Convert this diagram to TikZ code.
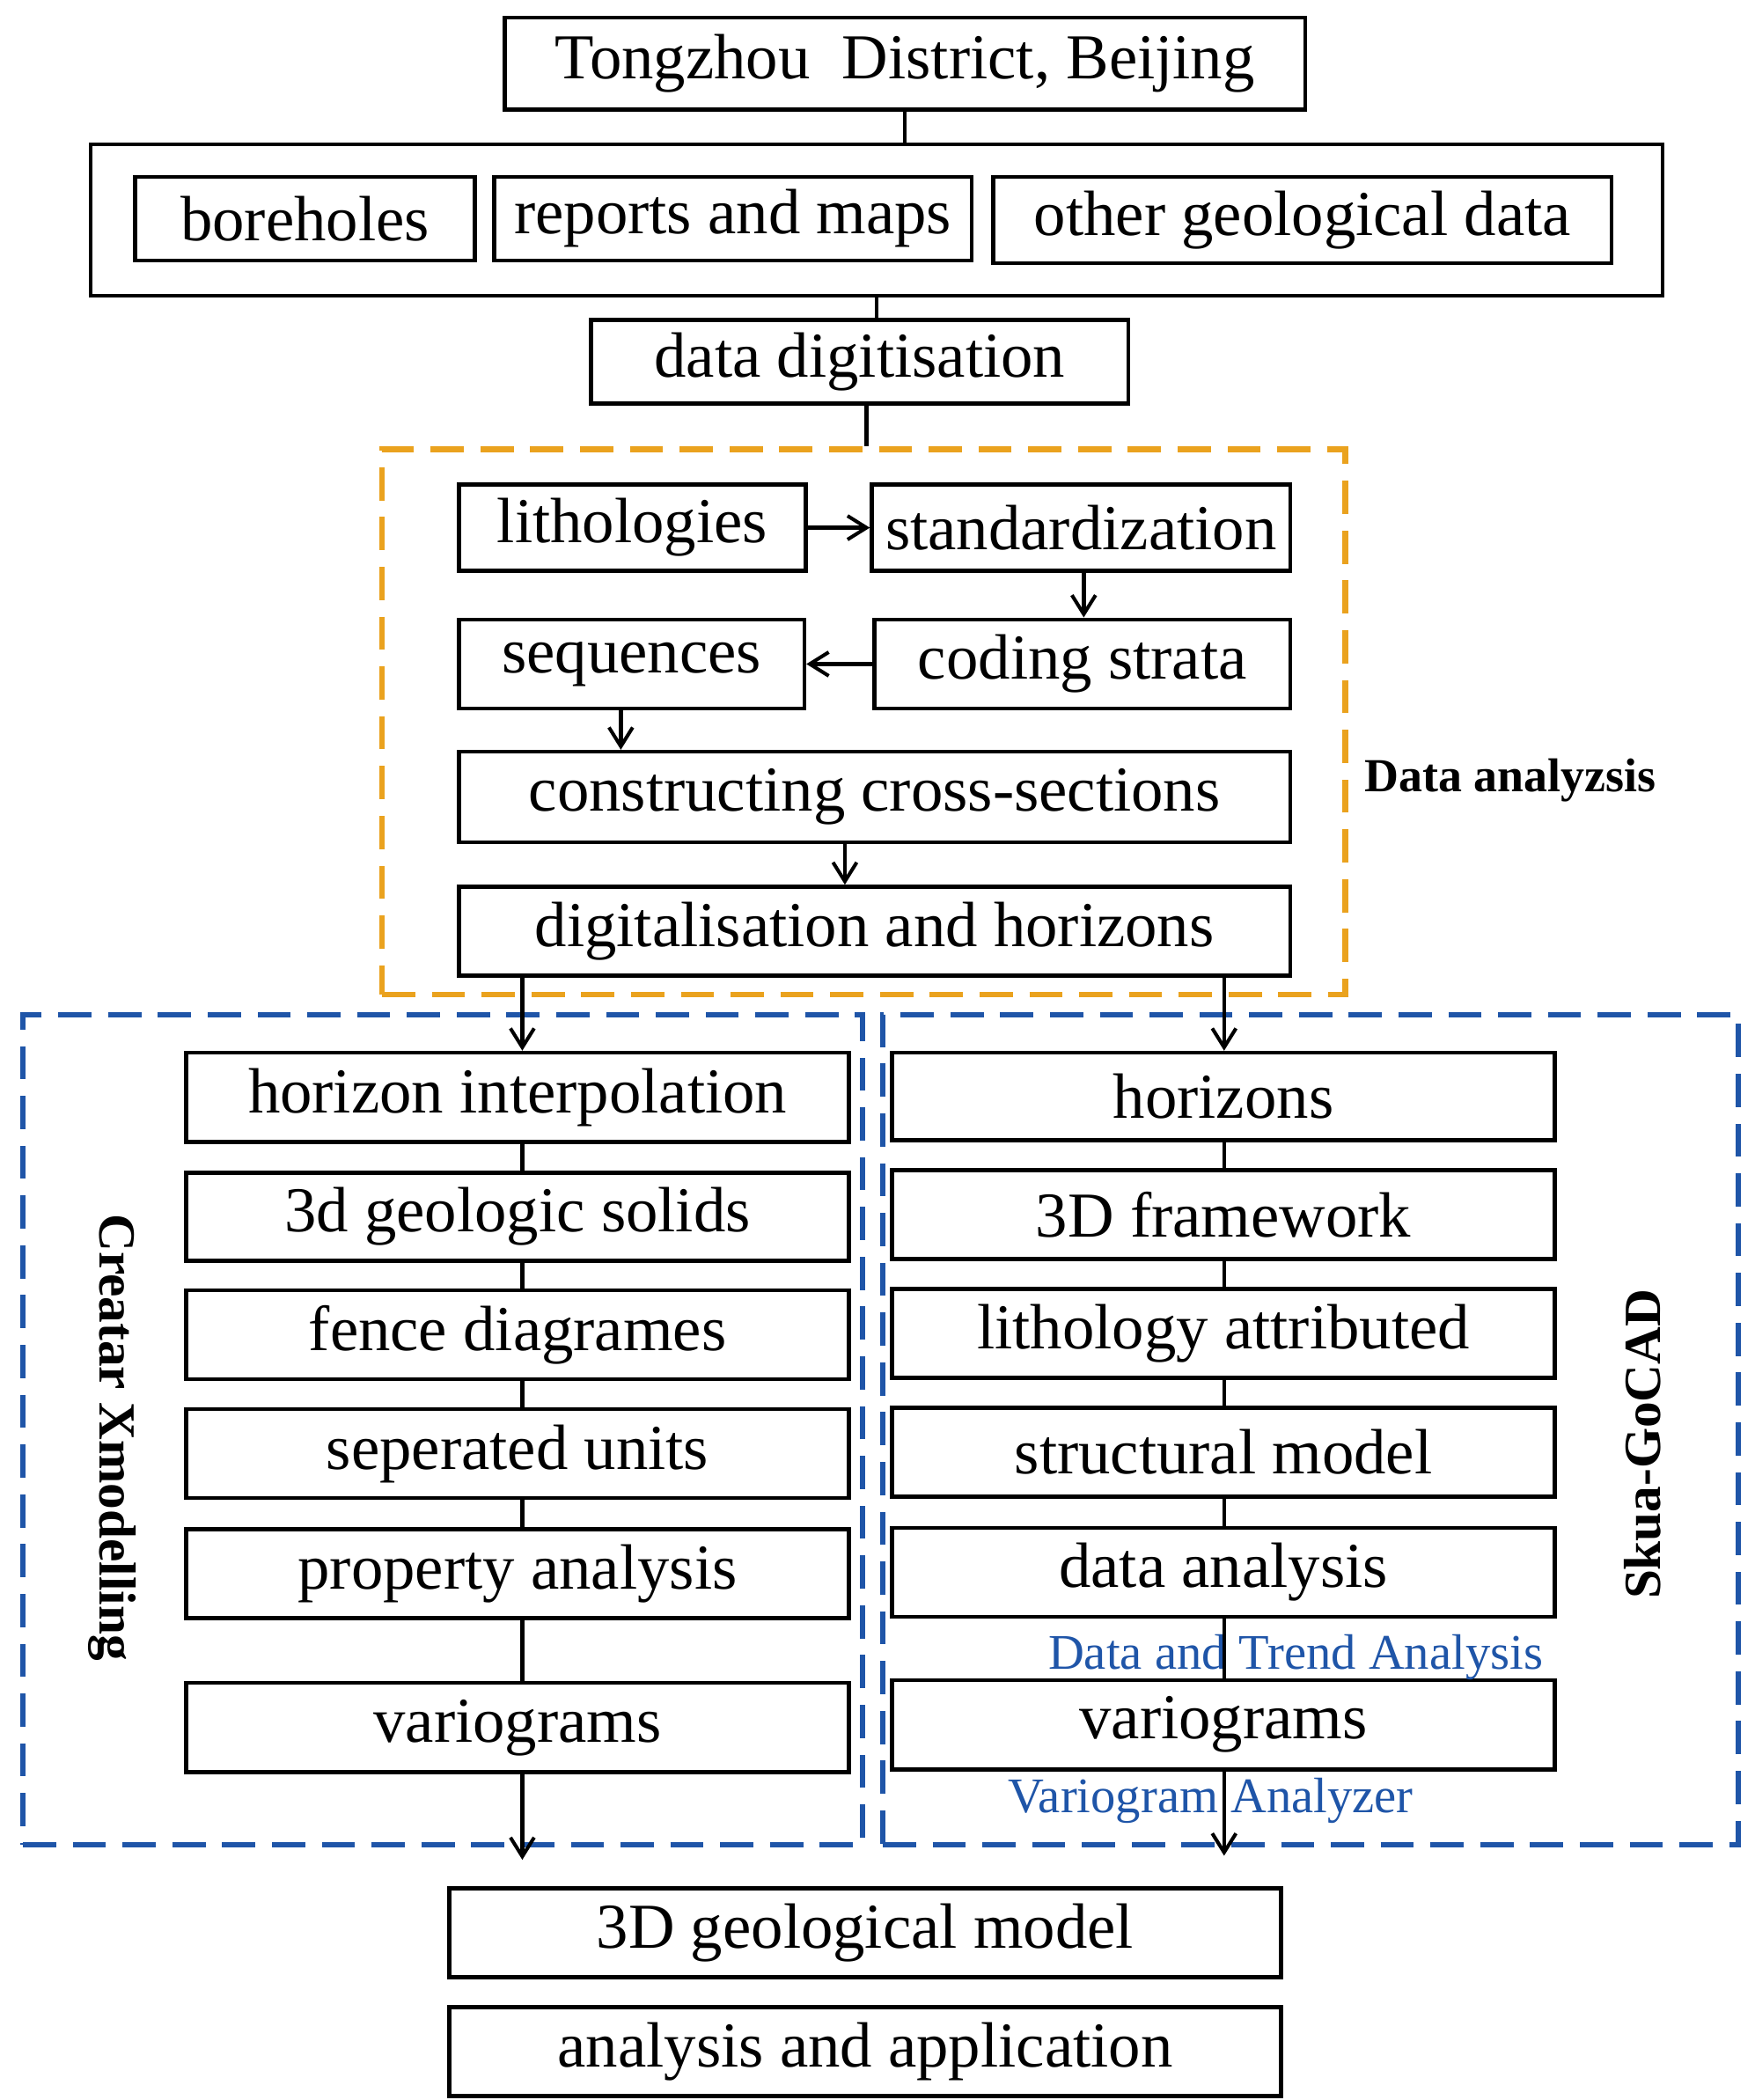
\documentclass[tikz,border=0pt]{standalone}
\usepackage{fontspec}
\setmainfont{Liberation Serif}
\usetikzlibrary{arrows.meta}
\definecolor{orng}{HTML}{EAA21E}
\definecolor{bl}{HTML}{1F55A8}
\begin{document}
\begin{tikzpicture}[x=0.02cm,y=-0.02cm,
  box/.style={draw,line width=1.7pt,inner sep=0pt,font=\fontsize{27}{29}\selectfont},
  ln/.style={line width=1.7pt},
  arr/.style={line width=1.7pt,-{Straight Barb[length=8pt,width=10pt,line width=1.5pt]}},
  dsh/.style={line width=2.4pt,dash pattern=on 14pt off 7pt},
  blab/.style={text=bl,font=\fontsize{21}{22}\selectfont}]
\useasboundingbox (0,0) rectangle (1300,1556);
\def\B(#1)#2#3#4#5#6{\node[box,minimum width={(#4-#2)*0.02cm},minimum height={(#5-#3)*0.02cm}] (#1) at ({(#2+#4)/2},{(#3+#5)/2}) {#6};}
\B(tz){374}{13}{967}{81}{Tongzhou\ \ District, Beijing}
\node[draw,line width=1.7pt,minimum width=23.3cm,minimum height=2.24cm] (data) at (649.5,163) {};
\B(bh){100}{131}{352}{193}{boreholes}
\B(rm){366}{131}{720}{193}{reports and maps}
\B(og){736}{131}{1194}{195}{other geological data}
\B(dd){438}{237}{836}{299}{data digitisation}
\node[draw=orng,dsh,minimum width=14.28cm,minimum height=8.08cm] (da) at (640,535) {};
\node[font=\bfseries\fontsize{20}{22}\selectfont,anchor=west] (dal) at (1005,578) {Data analyzsis};
\B(li){340}{359}{597}{423}{lithologies}
\B(st){646}{359}{956}{423}{standardization}
\B(sq){340}{459}{596}{525}{sequences}
\B(cs){648}{459}{956}{525}{coding strata}
\B(cc){340}{557}{956}{624}{constructing cross-sections}
\B(dh){340}{657}{956}{723}{digitalisation and horizons}
\node[draw=bl,dsh,minimum width=12.44cm,minimum height=12.3cm] (lb) at (328,1059.5) {};
\node[draw=bl,dsh,minimum width=12.68cm,minimum height=12.3cm] (rb) at (971,1059.5) {};
\node[rotate=-90,font=\bfseries\fontsize{22}{24}\selectfont] (cx) at (83,1065) {Creatar Xmodelling};
\node[rotate=90,font=\bfseries\fontsize{22}{24}\selectfont] (sg) at (1217,1070) {Skua-GoCAD};
\B(l1){138}{780}{629}{846}{horizon interpolation}
\B(l2){138}{869}{629}{934}{3d geologic solids}
\B(l3){138}{956}{629}{1022}{fence diagrames}
\B(l4){138}{1044}{629}{1110}{seperated units}
\B(l5){138}{1133}{629}{1199}{property analysis}
\B(l6){138}{1247}{629}{1313}{variograms}
\B(r1){661}{780}{1152}{845}{horizons}
\B(r2){661}{867}{1152}{933}{3D framework}
\B(r3){661}{955}{1152}{1021}{lithology attributed}
\B(r4){661}{1043}{1152}{1109}{structural model}
\B(r5){661}{1132}{1152}{1198}{data analysis}
\B(r6){661}{1245}{1152}{1311}{variograms}
\node[blab] (t1) at (960,1228) {Data and Trend Analysis};
\node[blab] (t2) at (897,1334) {Variogram Analyzer};
\B(gm){333}{1399}{949}{1465}{3D geological model}
\B(aa){333}{1487}{949}{1553}{analysis and application}
\coordinate (le) at (387,1378);
\coordinate (re) at (907,1375);
\draw[ln] (tz.south) -- (tz.south |- data.north);
\draw[ln] (data.south) -- (data.south |- dd.north);
\draw[ln] ([xshift=0.1cm]dd.south) -- ([xshift=0.1cm]dd.south |- da.north);
\draw[arr] (li.east) -- (st.west);
\draw[arr] ([xshift=0.04cm]st.south) -- ([xshift=0.04cm]st.south |- cs.north);
\draw[arr] (cs.west) -- (sq.east);
\draw[arr] ([xshift=-0.16cm]sq.south) -- ([xshift=-0.16cm]sq.south |- cc.north);
\draw[arr] ([xshift=-0.44cm]cc.south) -- ([xshift=-0.44cm]cc.south |- dh.north);
\draw[arr] (dh.south -| le) -- (le |- l1.north);
\draw[arr] (dh.south -| re) -- (re |- r1.north);
\foreach \a/\b in {l1/l2,l2/l3,l3/l4,l4/l5,l5/l6}{\draw[ln] (\a.south -| le) -- (\b.north -| le);}
\foreach \a/\b in {r1/r2,r2/r3,r3/r4,r4/r5,r5/r6}{\draw[ln] (\a.south -| re) -- (\b.north -| re);}
\draw[arr] (l6.south -| le) -- (le);
\draw[arr] (r6.south -| re) -- (re);
\end{tikzpicture}
\end{document}
